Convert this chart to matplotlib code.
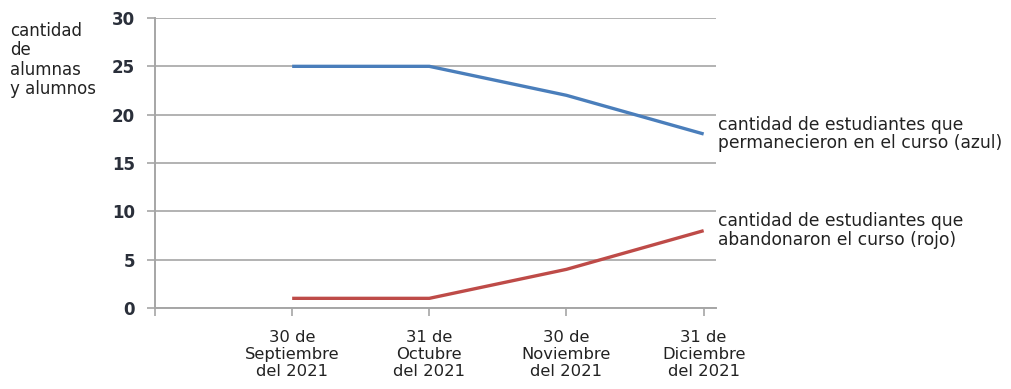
import matplotlib
matplotlib.use("Agg")
import matplotlib.pyplot as plt

categories = ["30 de\nSeptiembre\ndel 2021", "31 de\nOctubre\ndel 2021",
              "30 de\nNoviembre\ndel 2021", "31 de\nDiciembre\ndel 2021"]
permanecieron = [25, 25, 22, 18]
abandonaron = [1, 1, 4, 8]
y_ticks = [0, 5, 10, 15, 20, 25, 30]

plt.rcParams['font.family'] = ['DejaVu Sans']

fig = plt.figure(figsize=(10.12, 3.89), dpi=100)
ax = fig.add_axes([155/1012, 1-308/389, (716-155)/1012, (308-18)/389])

xs = list(range(1, len(categories) + 1))
ax.plot(xs, permanecieron, color="#4a7ebb", lw=2.4, solid_capstyle="butt")
ax.plot(xs, abandonaron, color="#be4b48", lw=2.4, solid_capstyle="butt")

ax.set_xlim(0, 4.09)
ax.set_ylim(0, 30)
ax.set_yticks(y_ticks)
ax.set_yticklabels([str(v) for v in y_ticks], fontsize=12, fontweight="bold", color="#2a2f3a")
ax.set_xticks([0] + xs)
ax.set_xticklabels([""] + categories, fontsize=11.8, color="#222222", linespacing=1.2)
ax.yaxis.grid(True, color="#a6a6a6", lw=1.2)
ax.set_axisbelow(True)
for s in ["top", "right"]:
    ax.spines[s].set_visible(False)
for s in ["left", "bottom"]:
    ax.spines[s].set_color("#a6a6a6")
    ax.spines[s].set_linewidth(1.4)
ax.tick_params(axis="y", length=5.5, color="#a6a6a6", width=1.2, pad=9)
ax.tick_params(axis="x", length=5.5, color="#a6a6a6", width=1.2, pad=10)

fig.text(10/1012, 1-22/389, "cantidad\nde\nalumnas\ny alumnos", fontsize=12,
         va="top", ha="left", color="#222222", linespacing=1.1)

ax.annotate("cantidad de estudiantes que\npermanecieron en el curso (azul)",
            xy=(xs[-1], permanecieron[-1]), xytext=(10, 0), textcoords="offset points",
            fontsize=12.3, va="center", ha="left", color="#222222", annotation_clip=False,
            linespacing=1.05)
ax.annotate("cantidad de estudiantes que\nabandonaron el curso (rojo)",
            xy=(xs[-1], abandonaron[-1]), xytext=(10, 0), textcoords="offset points",
            fontsize=12.3, va="center", ha="left", color="#222222", annotation_clip=False,
            linespacing=1.05)

fig.savefig("out.png", dpi=100)
